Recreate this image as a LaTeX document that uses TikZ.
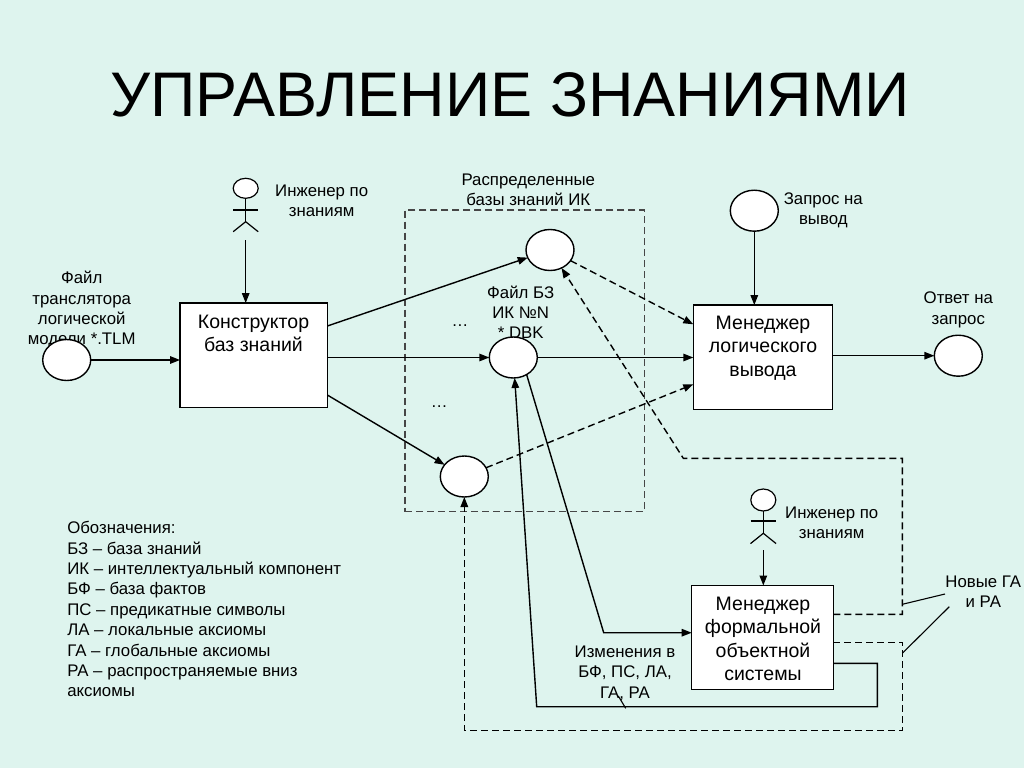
\documentclass[tikz,border=0pt]{standalone}
\usepackage{fontspec}
\setmainfont{Liberation Sans}
\usetikzlibrary{shapes.geometric,arrows.meta}
\definecolor{bgc}{RGB}{222,244,238}
\definecolor{rectc}{RGB}{70,70,70}
\begin{document}
\begin{tikzpicture}[x=1pt,y=-1pt,
  every node/.style={inner sep=0pt, outer sep=0pt},
  ln/.style={line width=1.4pt, black},
  arr/.style={ln, -{Triangle[length=10pt,width=7.5pt]}},
  dsh/.style={dash pattern=on 7pt off 4pt},
  thin line/.style={line width=1.1pt, black},
  circ/.style={ellipse, draw, line width=1.4pt, fill=white, minimum width=48pt, minimum height=41pt},
  boxn/.style={rectangle, draw, line width=1.4pt, fill=white},
  lbl/.style={font=\fontsize{16.8}{20.4}\selectfont, align=center, anchor=north},
  btxt/.style={font=\fontsize{19.5}{23.3}\selectfont, align=center, anchor=north},
  headn/.style={ellipse, draw, line width=1.2pt, fill=white, minimum width=25pt, minimum height=21pt},
  fig/.style={line width=1.2pt, black},
]
\useasboundingbox (0,0) rectangle (1024,768);
\fill[bgc] (0,0) rectangle (1024,768);

% title
\node[font=\fontsize{63}{70}\selectfont] (title) at (510,95.2) {УПРАВЛЕНИЕ ЗНАНИЯМИ};

% distributed KB dashed frame
\node[rectangle, draw=rectc, line width=1.2pt, dsh, minimum width=239.3pt, minimum height=301.7pt] (distr) at (524.65,360.85) {};
\node[lbl] (distrlbl) at (528.3,173.7) {Распределенные\\базы знаний ИК};

% boxes
\node[boxn, minimum width=147.3pt, minimum height=104.3pt] (kb) at (253.7,355.2) {};
\node[btxt] (kbt) at (253.5,315) {Конструктор\\баз знаний};
\node[boxn, minimum width=139.4pt, minimum height=104.3pt] (lg) at (763,357.2) {};
\node[btxt] (lgt) at (763,316) {Менеджер\\логического\\вывода};
\node[boxn, minimum width=141.6pt, minimum height=104pt] (fm) at (762.5,637.5) {};
\node[btxt] (fmt) at (763,597) {Менеджер\\формальной\\объектной\\системы};

% labels drawn under circles
\node[lbl] (tlmlbl) at (81.7,271.3) {Файл\\транслятора\\логической\\модели *.TLM};
\node[lbl] (dbklbl) at (520.7,285.7) {Файл БЗ\\ИК №N\\* DBK};

% circles
\node[circ] (tlm) at (66.7,360) {};
\node[circ] (c1) at (550,250) {};
\node[circ] (c2) at (513.3,357.5) {};
\node[circ] (c3) at (464.3,476.5) {};
\node[circ] (req) at (754.3,210.7) {};
\node[circ] (ans) at (958.3,355.7) {};

% other labels
\node[lbl] (e1lbl) at (321.7,184.7) {Инженер по\\знаниям};
\node[lbl] (reqlbl) at (823.3,192.3) {Запрос на\\вывод};
\node[lbl] (anslbl) at (958.3,292) {Ответ на\\запрос};
\node[lbl] (e2lbl) at (831.7,507) {Инженер по\\знаниям};
\node[lbl] (newlbl) at (983.3,575.7) {Новые ГА\\и РА};
\node[lbl] (chglbl) at (625,645.7) {Изменения в\\БФ, ПС, ЛА,\\ГА, РА};
\node[font=\fontsize{16.8}{20.4}\selectfont] (dots1) at (460,326) {…};
\node[font=\fontsize{16.8}{20.4}\selectfont] (dots2) at (439.3,407) {…};
\node[font=\fontsize{16.8}{20.4}\selectfont, align=left, anchor=north west] (legend) at (67.3,521.3)
  {Обозначения:\\БЗ – база знаний\\ИК – интеллектуальный компонент\\БФ – база фактов\\ПС – предикатные символы\\ЛА – локальные аксиомы\\ГА – глобальные аксиомы\\РА – распространяемые вниз\\аксиомы};

% stick figure 1
\node[headn, minimum height=20pt] (h1) at (245.7,188.3) {};
\draw[fig] (h1.south) -- ++(0,23.4) coordinate (hip1);
\draw[fig] (h1.south) ++(-12.5,11.7) -- ++(25,0);
\draw[fig] (hip1) -- ++(-12.5,10) (hip1) -- ++(12.5,10);
\coordinate (e1) at (245.7,240);
\draw[arr] (e1) -- (e1 |- kb.north);

% stick figure 2
\node[headn, minimum height=22pt] (h2) at (763.3,500) {};
\draw[fig] (h2.south) -- ++(0,22.3) coordinate (hip2);
\draw[fig] (h2.south) ++(-12.8,10) -- ++(25.6,0);
\draw[fig] (hip2) -- ++(-12.8,10.3) (hip2) -- ++(12.8,10.3);
\coordinate (e2) at (763.3,550);
\draw[arr] (e2) -- (e2 |- fm.north);

% solid arrows
\draw[arr] (tlm) -- (tlm -| kb.west);
\draw[arr] (kb.east |- 0,326) -- (c1);
\draw[arr] (kb.east |- c2) -- (c2);
\draw[arr] (kb.east |- 0,395) -- (c3);
\draw[arr] (c2.east) -- (c2.east -| lg.west);
\draw[arr] (req) -- (req |- lg.north);
\draw[arr] (lg.east |- ans) -- (ans);

% dashed arrows into logic manager
\draw[arr, dsh] (c1) -- (lg.west |- 0,324.3);
\draw[arr, dsh] (c3) -- (lg.west |- 0,384.3);

% feedback from formal manager
\draw[arr, dsh] (fm.east |- 0,614.3) -- (902.3,614.3) -- (902.3,458.3) -- (683.3,458.3) -- (c1);
\draw[arr, dsh] (fm.east |- 0,642.3) -- (902.3,642.3) -- (902.3,730.7) -- (464.3,730.7) -- (c3);
\draw[arr] (fm.east |- 0,663.3) -- (877.3,663.3) -- (877.3,706.7) -- (536.7,706.7) -- (c2);
\draw[arr] (c2.-52) -- (603.7,632.7) -- (fm.west |- 0,632.7);

% callout lines
\draw[thin line] (902.3,604.3) -- (945,594);
\draw[thin line] (902.3,653.3) -- (949.3,606.7);
\draw[thin line] (618.3,696) -- (625.7,708.3);
\end{tikzpicture}
\end{document}
